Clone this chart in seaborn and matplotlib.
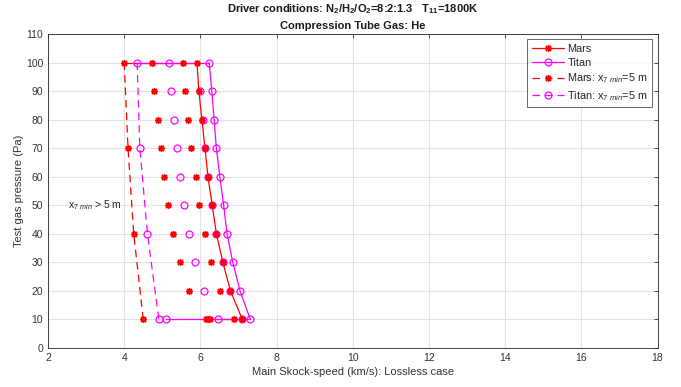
import matplotlib
matplotlib.use('Agg')
import matplotlib.pyplot as plt
import seaborn as sns

# 압력 (Pa)
pressure = [100, 90, 80, 70, 60, 50, 40, 30, 20, 10]
# 주 충격파 속도 (km/s)
mars_speed = [5.91, 5.96, 6.04, 6.12, 6.20, 6.31, 6.42, 6.59, 6.79, 7.10]
titan_speed = [6.23, 6.30, 6.36, 6.42, 6.51, 6.61, 6.70, 6.85, 7.04, 7.31]

# x7min = 5 m 경계
p_x7 = [100, 70, 40, 10]
mars_x7 = [4.00, 4.10, 4.25, 4.50]
titan_x7 = [4.34, 4.41, 4.61, 4.91]

# 나머지 계산점
mars_pts_p = [100, 100, 90, 90, 80, 80, 70, 70, 60, 60, 50, 50, 40, 40, 30, 30, 20, 20, 10, 10, 10, 10]
mars_pts_v = [4.73, 5.55, 4.79, 5.60, 4.89, 5.68, 4.96, 5.76, 5.05, 5.88, 5.15, 5.96,
              5.28, 6.12, 5.46, 6.27, 5.70, 6.51, 6.16, 6.21, 6.26, 6.87]
titan_pts_p = [100, 90, 90, 80, 80, 70, 70, 60, 60, 50, 50, 40, 40, 30, 30, 20, 20, 10, 10, 10]
titan_pts_v = [5.18, 5.23, 5.98, 5.32, 6.07, 5.38, 6.12, 5.46, 6.20, 5.58, 6.31, 5.69, 6.42,
               5.86, 6.59, 6.10, 6.79, 5.11, 6.47, 7.10]

# 수평 연결선 (100 Pa, 10 Pa)
mars_top = [4.00, 5.91]
titan_top = [4.34, 6.23]
mars_bot = [6.16, 7.10]
titan_bot = [5.11, 7.31]

sns.set_style('white')
plt.rcParams['font.family'] = ['Liberation Sans', 'DejaVu Sans']
plt.rcParams['mathtext.fontset'] = 'custom'
plt.rcParams['mathtext.rm'] = 'Liberation Sans'
plt.rcParams['mathtext.it'] = 'Liberation Sans:italic'
plt.rcParams['mathtext.bf'] = 'Liberation Sans:bold'

fig = plt.figure(figsize=(6.81, 3.87), dpi=100)
ax = fig.add_axes([0.0705, 0.101, 0.895, 0.811])

ast = (8, 2, 0)
red = '#ff0000'
mag = '#ff00ff'
common = dict(orient='y', sort=False, estimator=None, errorbar=None, ax=ax)
mars_mk = dict(marker=ast, markersize=5, markeredgewidth=1.0, markeredgecolor=red)
titan_mk = dict(marker='o', markersize=5, markerfacecolor='none', markeredgewidth=0.9,
                markeredgecolor=mag)

# 수평선
sns.lineplot(x=mars_top, y=[100, 100], color=red, lw=0.9, **common)
sns.lineplot(x=titan_top, y=[100, 100], color=mag, lw=0.9, **common)
sns.lineplot(x=mars_bot, y=[10, 10], color=red, lw=0.9, **common)
sns.lineplot(x=titan_bot, y=[10, 10], color=mag, lw=0.9, **common)

# 기타 점
sns.lineplot(x=mars_pts_v, y=mars_pts_p, color=red, linestyle='none', **mars_mk, **common)
sns.lineplot(x=titan_pts_v, y=titan_pts_p, color=mag, linestyle='none', **titan_mk, **common)

# 주 곡선
sns.lineplot(x=mars_speed, y=pressure, color=red, lw=0.9, linestyle='-',
             label='Mars', **mars_mk, **common)
sns.lineplot(x=titan_speed, y=pressure, color=mag, lw=0.9, linestyle='-',
             label='Titan', **titan_mk, **common)
sns.lineplot(x=mars_x7, y=p_x7, color=red, lw=0.9, linestyle=(0, (6, 4)),
             label='Mars: x$_{7\\ min}$=5 m', **mars_mk, **common)
sns.lineplot(x=titan_x7, y=p_x7, color=mag, lw=0.9, linestyle=(0, (6, 4)),
             label='Titan: x$_{7\\ min}$=5 m', **titan_mk, **common)

ax.text(2.52, 50, 'x$_{7\\ min}$ > 5 m', fontsize=7.5, va='center', ha='left', color='#262626')

ax.set_xlim(2, 18)
ax.set_ylim(0, 110)
ax.set_xticks(range(2, 19, 2))
ax.set_yticks(range(0, 111, 10))
ax.grid(True, color='#e3e3e3', lw=0.8)
ax.tick_params(direction='in', top=True, right=True, length=3, labelsize=7.5,
               colors='#333333', width=0.6)
for s in ax.spines.values():
    s.set_color('#262626')
    s.set_linewidth(0.6)

ax.set_xlabel('Main Skock-speed (km/s): Lossless case', fontsize=8, color='#333333', labelpad=3)
ax.set_ylabel('Test gas pressure (Pa)', fontsize=8, color='#333333', labelpad=1)
ax.set_title('Driver conditions: N$_\\mathbf{2}$/H$_\\mathbf{2}$/O$_\\mathbf{2}$=8:2:1.3   '
             'T$_\\mathbf{11}$=1800K\nCompression Tube Gas: He',
             fontsize=8, fontweight='bold', color='#1a1a1a', linespacing=1.6, pad=4)

leg = ax.legend(loc='upper right', fontsize=7.8, frameon=True, fancybox=False,
                edgecolor='#262626', handlelength=3.0, borderpad=0.4, labelspacing=0.35,
                handletextpad=0.3, borderaxespad=0.5)
leg.get_frame().set_linewidth(0.6)

plt.savefig('out.png', dpi=100)
